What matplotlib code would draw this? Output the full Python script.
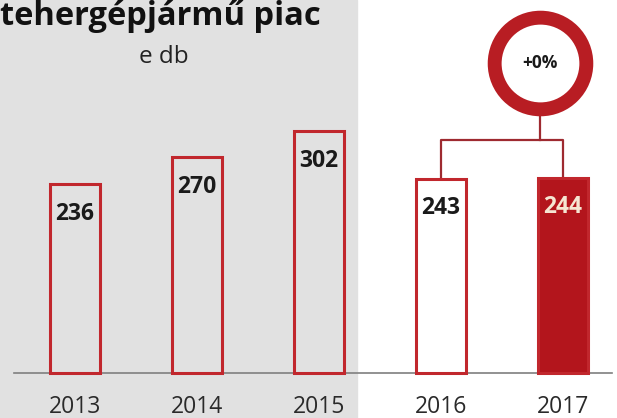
"""
Tehergépjármű piac, e db
"""

import matplotlib
matplotlib.use('Agg')
import matplotlib.pyplot as plt

# adatok
years = ['2013', '2014', '2015', '2016', '2017']
values = [236, 270, 302, 243, 244]
change_label = '+0%'
title = 'tehergépjármű piac'
unit = 'e db'

# szinek
red = '#c1272d'
dark_red = '#b3151c'
line_red = '#9e2a30'
gray_bg = '#e1e1e1'

plt.rcParams['font.family'] = ['Open Sans', 'DejaVu Sans']

fig = plt.figure(figsize=(6.17, 4.18), dpi=100)
fig.patch.set_facecolor('white')
ax = fig.add_axes([0, 0, 1, 1])
ax.set_xlim(-0.615, 4.443)
ax.set_ylim(-56.25, 466.25)
ax.axis('off')

# szurke hatter a multbeli evekhez
ax.axvspan(-1, 2.31, color=gray_bg, zorder=0)

# alapvonal
ax.plot([-0.5, 4.4], [0, 0], color='#7f7f7f', lw=1.2, zorder=1)

x = list(range(len(years)))
for i, (yr, v) in enumerate(zip(years, values)):
	last = i == len(years) - 1
	if last:
		fc = dark_red
	elif i >= 3:
		fc = 'white'
	else:
		fc = gray_bg
	ax.bar(i, v, width=0.41, color=fc, edgecolor=red, linewidth=2.2, zorder=2)
	ax.text(i, v - 37, str(v), ha='center', va='center', fontsize=16.5,
			fontweight='bold', color='#f5e6d2' if last else '#1a1a1a', zorder=3)
	ax.text(i, -43, yr, ha='center', va='center', fontsize=16.5,
			color='#2a2a2a', zorder=3)

# osszekoto vonalak es kor
ring_x = 3.81
bracket_y = 291
ax.plot([x[3], x[3], x[4], x[4]], [values[3], bracket_y, bracket_y, values[4]],
		color=line_red, lw=1.6, zorder=1)
ax.plot([ring_x, ring_x], [bracket_y, 330], color=line_red, lw=1.6, zorder=1)
ax.plot(ring_x, 387, 'o', ms=66, mfc='white', mec='#b81d23', mew=10, zorder=4)
ax.text(ring_x, 387, change_label, ha='center', va='center', fontsize=12.5,
		fontweight='bold', color='#1a1a1a', zorder=5)

# cim
fig.text(0.0, 0.94, title, ha='left', va='baseline', fontsize=23.5,
		fontweight='bold', color='#111111')
fig.text(0.266, 0.85, unit, ha='center', va='baseline', fontsize=17.5,
		color='#222222')

fig.savefig('out.png', dpi=100)
